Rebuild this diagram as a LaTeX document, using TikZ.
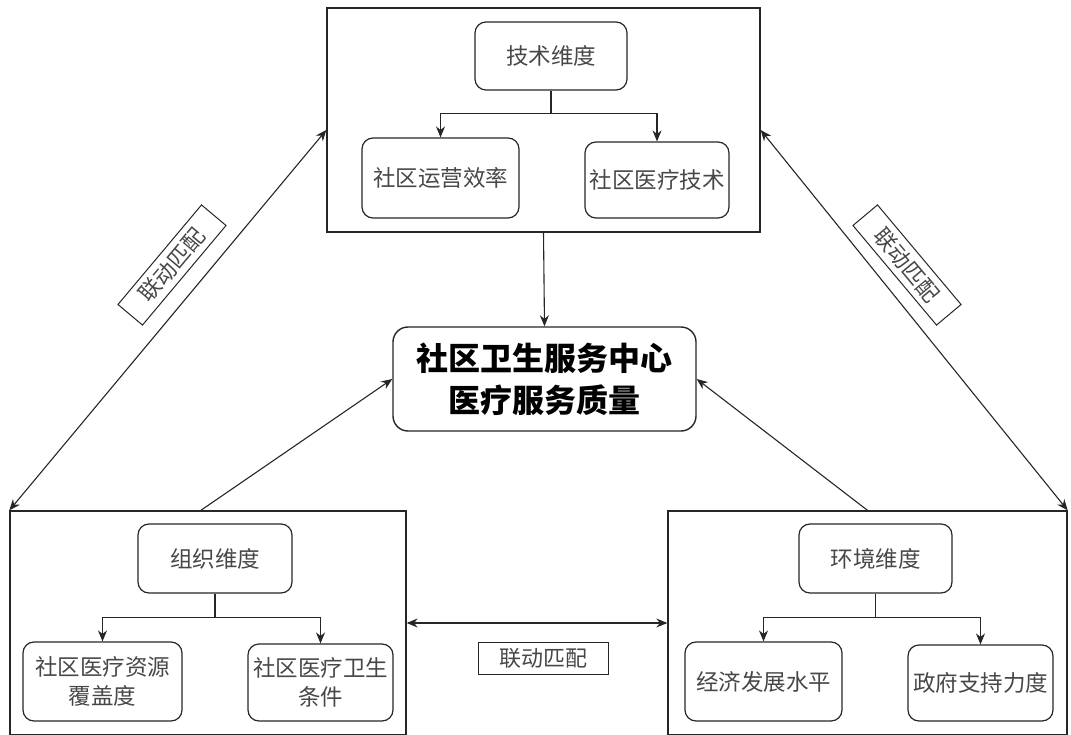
\documentclass[tikz,border=0pt]{standalone}
\usepackage{fontspec}
\setmainfont{Noto Sans CJK SC}
\usetikzlibrary{arrows.meta,calc}
\begin{document}
\begin{tikzpicture}[x=1pt,y=-1pt,
  outer/.style={draw=black!85,line width=1.3pt,minimum width=#1,inner sep=0pt},
  rbox/.style={draw=black!85,line width=1.2pt,rounded corners=11pt,inner sep=2pt,align=center,font=\fontsize{22.5}{29}\selectfont,text=black!72},
  lbl/.style={draw=black!85,line width=1pt,inner sep=0pt,minimum width=130pt,minimum height=32pt,font=\fontsize{22}{24}\selectfont,text=black!72},
  arr/.style={draw=black!85,line width=1.1pt,-{Stealth[length=11pt,width=9pt]}},
  darr/.style={draw=black!85,line width=1.1pt,{Stealth[length=11pt,width=9pt]}-{Stealth[length=11pt,width=9pt]}},
  ln/.style={draw=black!85,line width=1pt}]
\useasboundingbox (0,0) rectangle (1071,735);
% outer boxes
\node[outer=433pt,minimum height=224pt] (T) at (543.5,120) {};
\node[outer=396pt,minimum height=224pt] (L) at (208,623) {};
\node[outer=399pt,minimum height=224pt] (R) at (867.5,623) {};
% top group
\node[rbox,minimum width=152pt,minimum height=68pt] (td) at (551,56) {技术维度};
\node[rbox,minimum width=157pt,minimum height=80pt] (t1) at (440.5,178) {社区运营效率};
\node[rbox,minimum width=144pt,minimum height=76pt] (t2) at (657,180) {社区医疗技术};
\draw[arr] (td.south) -- ++(0,23) -| (t1.north);
\draw[arr] (td.south) -- ++(0,23) -| (t2.north);
% left group
\node[rbox,minimum width=154pt,minimum height=69pt] (ld) at (215,558.5) {组织维度};
\node[rbox,minimum width=159pt,minimum height=79pt] (l1) at (102.5,681.5) {社区医疗资源\\覆盖度};
\node[rbox,minimum width=145pt,minimum height=77pt] (l2) at (320.5,682.5) {社区医疗卫生\\条件};
\draw[arr] (ld.south) -- ++(0,24) -| (l1.north);
\draw[arr] (ld.south) -- ++(0,24) -| (l2.north);
% right group
\node[rbox,minimum width=153pt,minimum height=69pt] (rd) at (875.5,558.5) {环境维度};
\node[rbox,minimum width=157pt,minimum height=79pt] (r1) at (763.5,681.5) {经济发展水平};
\node[rbox,minimum width=145pt,minimum height=76pt] (r2) at (980.5,683) {政府支持力度};
\draw[arr] (rd.south) -- ++(0,24) -| (r1.north);
\draw[arr] (rd.south) -- ++(0,24) -| (r2.north);
% center
\node[draw=black!85,line width=1.4pt,rounded corners=15pt,minimum width=303pt,minimum height=104pt,align=center,font=\fontsize{32}{42}\selectfont\bfseries] (C) at (544.5,379) {社区卫生服务中心\\医疗服务质量};
% connectors
\draw[arr] (T.south) -- (C.north);
\draw[arr] ($(L.north west)!0.482!(L.north east)$) -- (C.west);
\draw[arr] ($(R.north west)!0.5!(R.north east)$) -- (C.east);
\draw[darr] (L.north west) -- ([yshift=-10pt]T.west);
\draw[darr] ([yshift=-10pt]T.east) -- (R.north east);
\draw[darr] (L.east) -- (R.west);
% labels
\node[lbl,rotate=50] (la) at (172,265) {联动匹配};
\node[lbl,rotate=-50] (lb) at (907,265) {联动匹配};
\node[lbl] (lc) at (543.5,658) {联动匹配};
\end{tikzpicture}
\end{document}
